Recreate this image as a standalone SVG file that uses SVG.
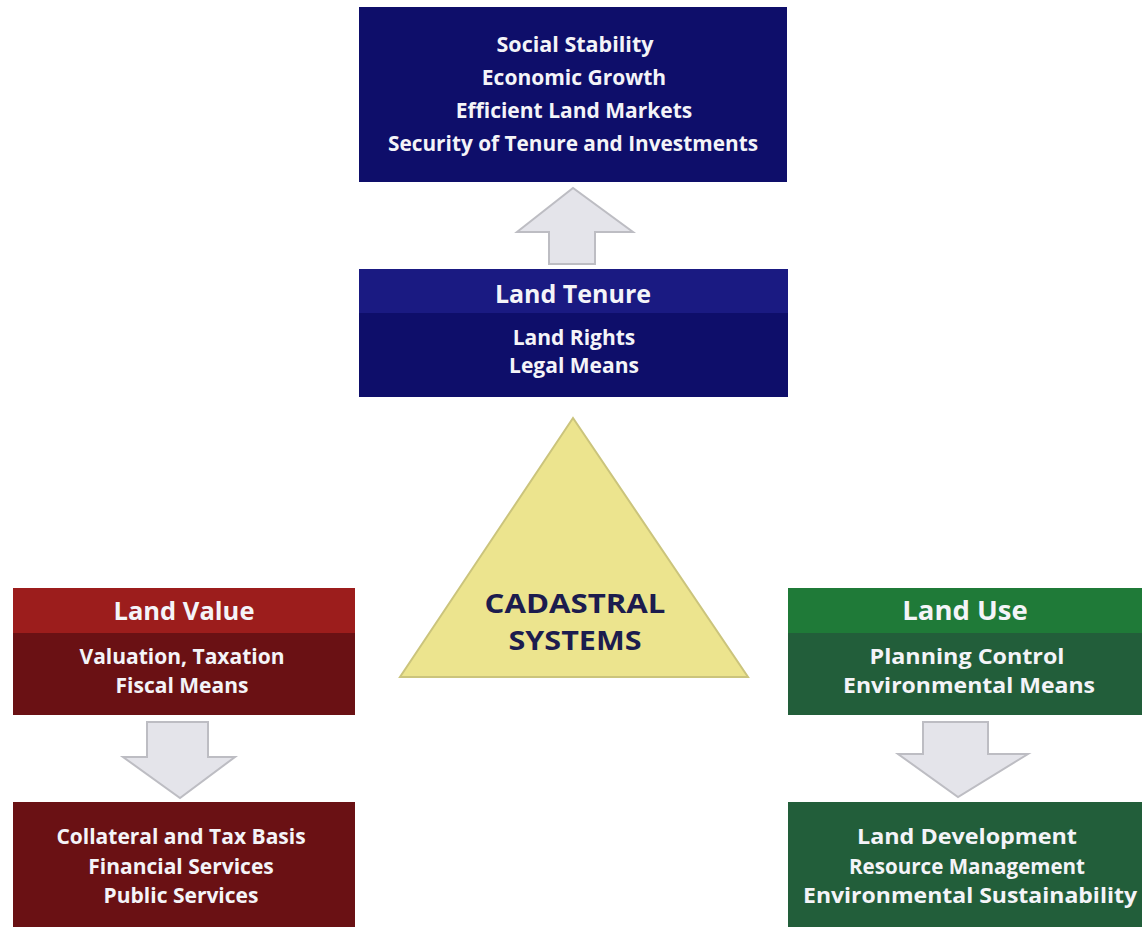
<svg xmlns="http://www.w3.org/2000/svg" width="1146" height="927" viewBox="0 0 1146 927">
<style>
  .t { font-family: "Open Sans", "Liberation Sans", sans-serif; font-weight: bold; fill: #f4f4f8; text-anchor: middle; }
  .b { font-size: 21px; }
  .h { font-size: 25px; }
  .bl { font-size: 21px; }
  .hl { font-size: 25.5px; }
  .br { font-size: 21px; }
  .hr { font-size: 27.5px; }
  .cad { font-family: "Open Sans", "Liberation Sans", sans-serif; font-weight: bold; font-size: 27px; fill: #1c1c4e; text-anchor: middle; }
  .arrow { fill: #e4e4ea; stroke: #bdbdc3; stroke-width: 2; }
  .navy { fill: #0e0e6a; }
  .navyh { fill: #1a1a82; }
  .red { fill: #6a1114; }
  .redh { fill: #9c1d1c; }
  .green { fill: #225e3a; }
  .greenh { fill: #1f7a38; }
</style>
<rect width="1146" height="927" fill="#ffffff"/>
<g id="connectors">
  <path class="arrow" d="M549,264 L549,232 L517,232 L573,188 L633,232 L595,232 L595,264 Z"/>
  <path class="arrow" d="M147,722 L208,722 L208,757 L235,757 L180,798 L123,757 L147,757 Z"/>
  <path class="arrow" d="M923,722 L988,722 L988,754 L1028,754 L958,797 L898,754 L923,754 Z"/>
</g>
<g id="goals">
  <rect class="navy" x="359" y="7" width="428" height="175"/>
  <text class="t b" x="575" y="52" textLength="157" lengthAdjust="spacingAndGlyphs">Social Stability</text>
  <text class="t b" x="574" y="85">Economic Growth</text>
  <text class="t b" x="574" y="118">Efficient Land Markets</text>
  <text class="t b" x="573" y="151" textLength="370" lengthAdjust="spacingAndGlyphs">Security of Tenure and Investments</text>
</g>
<g id="land-tenure">
  <rect class="navy" x="359" y="269" width="429" height="128"/>
  <rect class="navyh" x="359" y="269" width="429" height="44"/>
  <text class="t h" x="573" y="303">Land Tenure</text>
  <text class="t b" x="574" y="345">Land Rights</text>
  <text class="t b" x="574" y="373">Legal Means</text>
</g>
<g id="cadastral">
  <polygon points="573,418 400,677 748,677" fill="#ece48e" stroke="#cbc47c" stroke-width="2"/>
  <text class="cad" x="575" y="613" textLength="181" lengthAdjust="spacingAndGlyphs">CADASTRAL</text>
  <text class="cad" x="575" y="650" textLength="133" lengthAdjust="spacingAndGlyphs">SYSTEMS</text>
</g>
<g id="land-value">
  <rect class="red" x="13" y="588" width="342" height="127"/>
  <rect class="redh" x="13" y="588" width="342" height="45"/>
  <text class="t hl" x="184" y="620">Land Value</text>
  <text class="t bl" x="182" y="664">Valuation, Taxation</text>
  <text class="t bl" x="182" y="693">Fiscal Means</text>
</g>
<g id="value-outcomes">
  <rect class="red" x="13" y="802" width="342" height="125"/>
  <text class="t bl" x="181" y="844">Collateral and Tax Basis</text>
  <text class="t bl" x="181" y="874">Financial Services</text>
  <text class="t bl" x="181" y="903">Public Services</text>
</g>
<g id="land-use">
  <rect class="green" x="788" y="588" width="354" height="127"/>
  <rect class="greenh" x="788" y="588" width="354" height="45"/>
  <text class="t hr" x="965" y="620">Land Use</text>
  <text class="t br" x="967" y="664" textLength="195" lengthAdjust="spacingAndGlyphs">Planning Control</text>
  <text class="t br" x="969" y="693" textLength="252" lengthAdjust="spacingAndGlyphs">Environmental Means</text>
</g>
<g id="use-outcomes">
  <rect class="green" x="788" y="802" width="354" height="125"/>
  <text class="t br" x="967" y="844" textLength="220" lengthAdjust="spacingAndGlyphs">Land Development</text>
  <text class="t br" x="967" y="874" textLength="236" lengthAdjust="spacingAndGlyphs">Resource Management</text>
  <text class="t br" x="970" y="903" textLength="334" lengthAdjust="spacingAndGlyphs">Environmental Sustainability</text>
</g>
</svg>
